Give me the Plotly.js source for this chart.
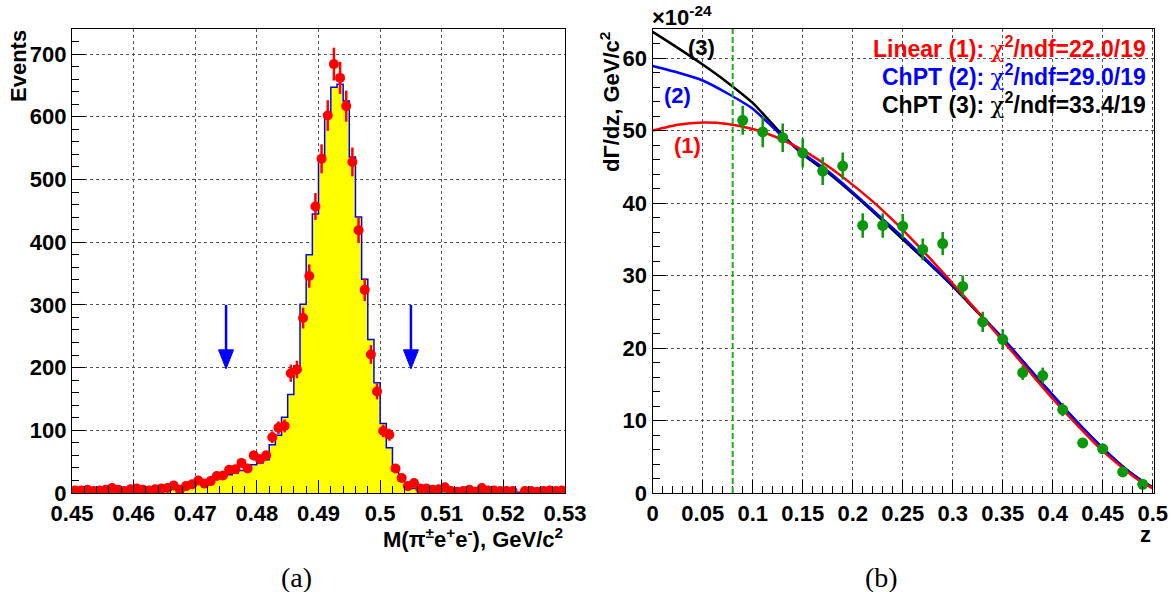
<!DOCTYPE html>
<html><head><meta charset="utf-8">
<script src="https://cdn.plot.ly/plotly-3.0.1.min.js"></script>
<style>html,body{margin:0;padding:0;background:#fff}#chart{width:1173px;height:592px}</style>
</head><body><div id="chart"></div>
<script>
// ---------- Panel (a): M(pi e e) spectrum ----------
const massBinLow = 0.45;
const massBinWidth = 0.001;
const dataCounts = [
  4, 4, 5, 3, 4, 5, 8, 5, 3, 6,
  7, 5, 4, 6, 7, 8, 12, 5, 11, 14,
  20, 15, 19, 27, 28, 37, 38, 48, 39, 60,
  54, 60, 89, 104, 107, 191, 197, 279, 346, 457,
  533, 602, 684, 662, 617, 528, 419, 324, 221, 162,
  99, 93, 39, 24, 11, 16, 7, 7, 5, 6,
  9, 3, 2, 3, 5, 2, 8, 4, 4, 3,
  3, 3, null, 3, 3, 2, 3, 4, 3, 4];
const dataErrors = [
  2, 2, 2.2, 1.7, 2, 2.2, 2.8, 2.2, 1.7, 2.4,
  2.6, 2.2, 2, 2.4, 2.6, 2.8, 3.5, 2.2, 3.3, 3.7,
  4.5, 3.9, 4.4, 5.2, 5.3, 6.1, 6.2, 6.9, 6.2, 7.7,
  7.3, 7.7, 9.4, 10.2, 10.3, 13.8, 14.0, 16.7, 18.6, 21.4,
  23.1, 24.5, 26.2, 25.7, 24.8, 23.0, 20.5, 18.0, 14.9, 12.7,
  9.9, 9.6, 6.2, 4.9, 3.3, 4.0, 2.6, 2.6, 2.2, 2.4,
  3.0, 1.7, 1.4, 1.7, 2.2, 1.4, 2.8, 2, 2, 1.7,
  1.7, 1.7, null, 1.7, 1.7, 1.4, 1.7, 2, 1.7, 2];
const mcCounts = [
  1, 1, 1, 1, 1, 2, 2, 2, 2, 2,
  3, 3, 4, 5, 6, 7, 8, 10, 11, 13,
  15, 17, 20, 23, 26, 29, 32, 36, 39, 45,
  48, 53, 77, 92, 121, 157, 203, 301, 380, 445,
  533, 600, 647, 652, 625, 536, 440, 341, 245, 176,
  111, 72, 35, 19, 11, 7, 5, 4, 3, 3,
  2, 2, 2, 2, 1, 1, 1, 1, 1, 1,
  1, 1, 1, 1, 1, 1, 1, 1, 1, 1];
const massCuts = [0.475, 0.505];
const arrowFromTo = [300, 198];

// ---------- Panel (b): dGamma/dz ----------
const zPoints = [0.09, 0.11, 0.13, 0.15, 0.17, 0.19, 0.21, 0.23, 0.25, 0.27, 0.29,
                 0.31, 0.33, 0.35, 0.37, 0.39, 0.41, 0.43, 0.45, 0.47, 0.49];
const dGdz = [51.4, 49.8, 49.0, 46.9, 44.4, 45.1, 36.9, 36.9, 36.8, 33.6, 34.4,
              28.5, 23.6, 21.2, 16.6, 16.2, 11.5, 6.9, 6.1, 2.9, 1.2];
const dGdzErr = [2.0, 2.1, 1.95, 2.0, 1.9, 1.85, 1.7, 1.7, 1.7, 1.5, 1.6,
                 1.5, 1.4, 1.4, 1.0, 1.1, 0.9, 0.7, 0.6, 0.5, 0.4];
const zCurve = [0, 0.025, 0.05, 0.075, 0.1, 0.125, 0.15, 0.175, 0.2, 0.225, 0.25,
                0.275, 0.3, 0.325, 0.35, 0.375, 0.4, 0.425, 0.45, 0.475, 0.49, 0.5];
const fitLinear = [50.0, 50.8, 51.1, 50.9, 50.2, 49.0, 47.3, 45.1, 42.5, 39.6, 36.3,
                   32.7, 28.9, 25.0, 21.0, 17.0, 13.0, 9.3, 5.8, 2.9, 1.4, 0.65];
const fitChPT2 = [58.9, 58.0, 56.9, 55.1, 53.0, 49.8, 46.9, 44.4, 41.5, 38.4, 35.3,
                  32.0, 28.7, 25.0, 21.4, 17.4, 13.5, 9.7, 6.2, 3.1, 1.6, 0.75];
const fitChPT3 = [63.6, 61.4, 59.1, 56.6, 53.8, 50.1, 46.7, 44.2, 41.3, 38.2, 35.0,
                  31.8, 28.5, 24.9, 21.3, 17.4, 13.5, 9.7, 6.2, 3.1, 1.6, 0.75];
const zCut = 0.08;
const fitNames = ['Linear (1)', 'ChPT (2)', 'ChPT (3)'];
const fitChi2 = ['22.0/19', '29.0/19', '33.4/19'];
const fitColors = ['#ff0000', '#0000ff', '#000000'];

// ---------- build ----------
const W = 1173, H = 592, mL = 72, mR = 19, mT = 29, mB = 99;
const pw = W - mL - mR, ph = H - mT - mB;
const px = x => (x - mL) / pw;
const py = y => (H - mB - y) / ph;

const massCenters = dataCounts.map((_, i) => massBinLow + (i + 0.5) * massBinWidth);
const massEdges = mcCounts.map((_, i) => massBinLow + i * massBinWidth)
  .concat([massBinLow + mcCounts.length * massBinWidth]);
const mcStep = mcCounts.concat([mcCounts[mcCounts.length - 1]]);

const FONT = 'Liberation Sans, Arial, Helvetica, sans-serif';
const tf = {family: FONT, size: 22, color: '#000', weight: 'bold'};

const traces = [
  {x: massEdges, y: mcStep, type: 'scatter', mode: 'lines', line: {shape: 'hv', color: '#0000ff', width: 1.5},
   fill: 'tozeroy', fillcolor: '#ffff00', xaxis: 'x', yaxis: 'y', hoverinfo: 'skip'},
  {x: massCenters, y: dataCounts, type: 'scatter', mode: 'markers',
   marker: {color: '#ff0000', size: 10}, error_y: {type: 'data', array: dataErrors, color: '#ff0000', thickness: 2.5, width: 0},
   xaxis: 'x', yaxis: 'y'},
  {x: zCurve, y: fitChPT3, type: 'scatter', mode: 'lines', line: {color: fitColors[2], width: 2.5, shape: 'spline', smoothing: 0.6}, xaxis: 'x2', yaxis: 'y2'},
  {x: zCurve, y: fitChPT2, type: 'scatter', mode: 'lines', line: {color: fitColors[1], width: 2.5, shape: 'spline', smoothing: 0.6}, xaxis: 'x2', yaxis: 'y2'},
  {x: zCurve, y: fitLinear, type: 'scatter', mode: 'lines', line: {color: fitColors[0], width: 2.5, shape: 'spline', smoothing: 0.6}, xaxis: 'x2', yaxis: 'y2'},
  {x: zPoints, y: dGdz, type: 'scatter', mode: 'markers',
   marker: {color: '#0a980a', size: 11}, error_y: {type: 'data', array: dGdzErr, color: '#0a980a', thickness: 2.5, width: 0},
   xaxis: 'x2', yaxis: 'y2'}
];

function ax(extra) {
  return Object.assign({
    ticks: 'inside', ticklen: 13, tickwidth: 1, tickcolor: '#000',
    showgrid: true, gridcolor: '#555', griddash: 'dot', gridwidth: 1,
    showline: true, linecolor: '#000', linewidth: 1.2, mirror: true,
    zeroline: false, tickfont: tf, fixedrange: true
  }, extra);
}

const shapes = [
  {type: 'line', xref: 'x2', yref: 'y2 domain', x0: zCut, x1: zCut, y0: 0, y1: 1,
   line: {color: '#22aa22', width: 2, dash: '6px,3px'}}
];
massCuts.forEach(c => {
  shapes.push({type: 'line', xref: 'x', yref: 'y', x0: c, x1: c, y0: arrowFromTo[0], y1: arrowFromTo[1] + 25,
               line: {color: '#0000ff', width: 2.5}});
  shapes.push({type: 'path', xref: 'x', yref: 'y', xsizemode: 'pixel', ysizemode: 'pixel',
               xanchor: c, yanchor: arrowFromTo[1], path: 'M-7.5,19 L7.5,19 L0,0 Z',
               fillcolor: '#0000ff', line: {color: '#0000ff', width: 1}});
});

const ann = [];
const A = (text, x, y, opts) => ann.push(Object.assign({text, x: px(x), y: py(y), xref: 'paper', yref: 'paper',
  showarrow: false, font: tf, xanchor: 'center', yanchor: 'middle'}, opts || {}));
A('Events', 18, 66, {textangle: -90});
A('M(π<sup>±</sup>e<sup>+</sup>e<sup>-</sup>), GeV/c<sup>2</sup>', 565, 538, {xanchor: 'right'});
A('dΓ/dz, GeV/c<sup>2</sup>', 610, 102, {textangle: -90});
A('z', 1153, 534, {xanchor: 'right'});
A('×10<sup>-24</sup>', 650, 16, {xanchor: 'left'});
A('(3)', 701, 47, {font: Object.assign({}, tf, {color: fitColors[2]})});
A('(2)', 677, 95, {font: Object.assign({}, tf, {color: fitColors[1]})});
A('(1)', 687, 145, {font: Object.assign({}, tf, {color: fitColors[0]})});
[47, 75, 103].forEach((y, i) => {
  A(fitNames[i] + ': <span style="font-family:DejaVu Serif;font-weight:normal">χ</span><sup>2</sup>/ndf=' + fitChi2[i],
    1148, y, {xanchor: 'right', font: Object.assign({}, tf, {size: 23, color: fitColors[i]})});
});
const capFont = {family: 'Liberation Serif, Times New Roman, serif', size: 28, color: '#000'};
A('(a)', 296, 577, {font: capFont});
A('(b)', 881, 577, {font: capFont});

const layout = {
  width: W, height: H, margin: {l: mL, r: mR, t: mT, b: mB},
  paper_bgcolor: '#fff', plot_bgcolor: '#fff', showlegend: false,
  xaxis: ax({domain: [0, px(565)], range: [0.45, 0.53], tick0: 0.45, dtick: 0.01, anchor: 'y',
             minor: {dtick: 0.002, ticks: 'inside', ticklen: 7, tickcolor: '#000', showgrid: false}}),
  yaxis: ax({domain: [0, 1], range: [0, 740], tick0: 0, dtick: 100, anchor: 'x',
             minor: {dtick: 20, ticks: 'inside', ticklen: 7, tickcolor: '#000', showgrid: false}}),
  xaxis2: ax({domain: [px(652.7), 1], range: [0, 0.5013], tick0: 0, dtick: 0.05, anchor: 'y2',
              minor: {dtick: 0.01, ticks: 'inside', ticklen: 7, tickcolor: '#000', showgrid: false}}),
  yaxis2: ax({domain: [0, 1], range: [0, 64], tick0: 0, dtick: 10, anchor: 'x2',
              minor: {dtick: 2, ticks: 'inside', ticklen: 7, tickcolor: '#000', showgrid: false}}),
  shapes: shapes, annotations: ann
};
Plotly.newPlot('chart', traces, layout, {displayModeBar: false, staticPlot: true});
</script></body></html>
